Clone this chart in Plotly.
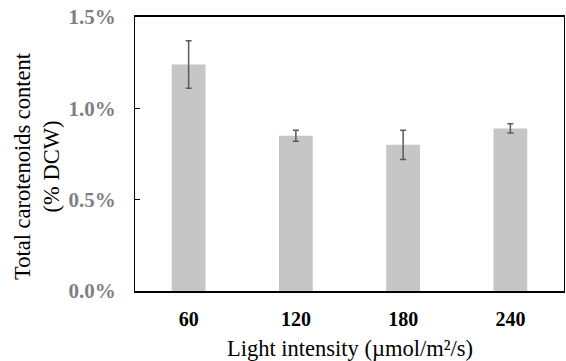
import plotly.graph_objects as go

categories = ["60", "120", "180", "240"]
values = [1.24, 0.85, 0.80, 0.89]
errors = [0.13, 0.03, 0.08, 0.025]
y_ticks = [0.0, 0.5, 1.0, 1.5]
y_tick_labels = ["0.0%", "0.5%", "1.0%", "1.5%"]

SERIF = "'Liberation Serif', 'Times New Roman', Times, serif"

fig = go.Figure()
fig.add_trace(go.Bar(
    x=categories, y=values, width=0.315,
    marker=dict(color="#c6c6c6", line=dict(width=0)),
    error_y=dict(type="data", array=errors, visible=True,
                 color="#5a5a5a", thickness=1.5, width=3),
))

fig.update_layout(
    width=566, height=361,
    margin=dict(l=135, r=2, t=17, b=70),
    plot_bgcolor="white", paper_bgcolor="white",
    showlegend=False,
    font=dict(family=SERIF, color="black"),
    xaxis=dict(
        type="category", showline=True, linecolor="black", linewidth=1.5,
        mirror=True, ticks="", showgrid=False,
        tickfont=dict(size=20, color="black", family=SERIF, weight="bold"),
        ticklabelstandoff=9,
    ),
    yaxis=dict(
        range=[0, 1.5], tickvals=y_ticks, ticktext=y_tick_labels,
        showline=True, linecolor="black", linewidth=1.2, mirror=True,
        ticks="inside", ticklen=5, tickcolor="black", showgrid=False, zeroline=False,
        tickfont=dict(size=21, color="#7f7f7f", family=SERIF, weight="bold"),
        ticklabelstandoff=14,
    ),
)

pw = 566 - 135 - 2
ph = 361 - 17 - 70

def px_to_paper(x, y):
    return (x - 135) / pw, (361 - 70 - y) / ph

ax, ay = px_to_paper(37, 166)
fig.add_annotation(text="Total carotenoids content<br>(% DCW)", textangle=-90,
                   x=ax, y=ay, xref="paper", yref="paper", showarrow=False,
                   xanchor="center", yanchor="middle",
                   font=dict(size=22.5, color="black", family=SERIF))
bx, by = px_to_paper(350, 348)
fig.add_annotation(text="Light intensity (µmol/m²/s)",
                   x=bx, y=by, xref="paper", yref="paper", showarrow=False,
                   xanchor="center", yanchor="middle",
                   font=dict(size=22.5, color="black", family=SERIF))

fig.write_html("out.html")
